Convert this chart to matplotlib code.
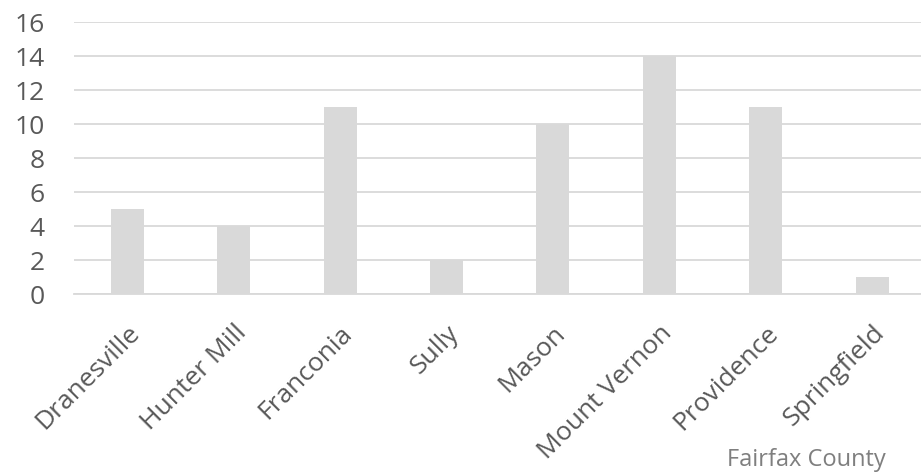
import matplotlib
matplotlib.use("Agg")
import matplotlib.pyplot as plt
import numpy as np

# --- data ------------------------------------------------------------------
DISTRICTS = ["Dranesville", "Hunter Mill", "Franconia", "Sully", "Mason",
             "Mount Vernon", "Providence", "Springfield"]
COUNTS = [5, 4, 11, 2, 10, 14, 11, 1]
Y_TICKS = [0, 2, 4, 6, 8, 10, 12, 14, 16]
FOOTER = "Fairfax County"

BAR = "#d9d9d9"
GRID = "#d9d9d9"
TEXT = "#595959"

plt.rcParams["font.family"] = ["Open Sans", "DejaVu Sans"]

fig = plt.figure(figsize=(9.21, 4.72), dpi=100)
ax = fig.add_axes([0.0803, 0.377, 0.9245, 0.576])

x = np.arange(len(DISTRICTS))
ax.bar(x, COUNTS, width=0.31, color=BAR, zorder=2)

ax.set_xlim(-0.5, len(DISTRICTS) - 0.5)
ax.set_ylim(0, 16)
ax.set_yticks(Y_TICKS)
ax.yaxis.grid(True, color=GRID, linewidth=1.3, zorder=0)
for side in ("top", "right", "left"):
    ax.spines[side].set_visible(False)
ax.spines["bottom"].set_color(GRID)
ax.spines["bottom"].set_linewidth(1.3)
ax.tick_params(axis="both", length=0, labelsize=19, labelcolor=TEXT)
ax.tick_params(axis="y", pad=21)
ax.set_xticks(x)
ax.set_xticklabels(DISTRICTS, rotation=45, ha="right", rotation_mode="anchor")
ax.tick_params(axis="x", pad=19)

fig.text(0.789, 0.0, FOOTER, fontsize=17, color="#7f7f7f", va="bottom")

fig.savefig("out.png", dpi=100, facecolor="white")
